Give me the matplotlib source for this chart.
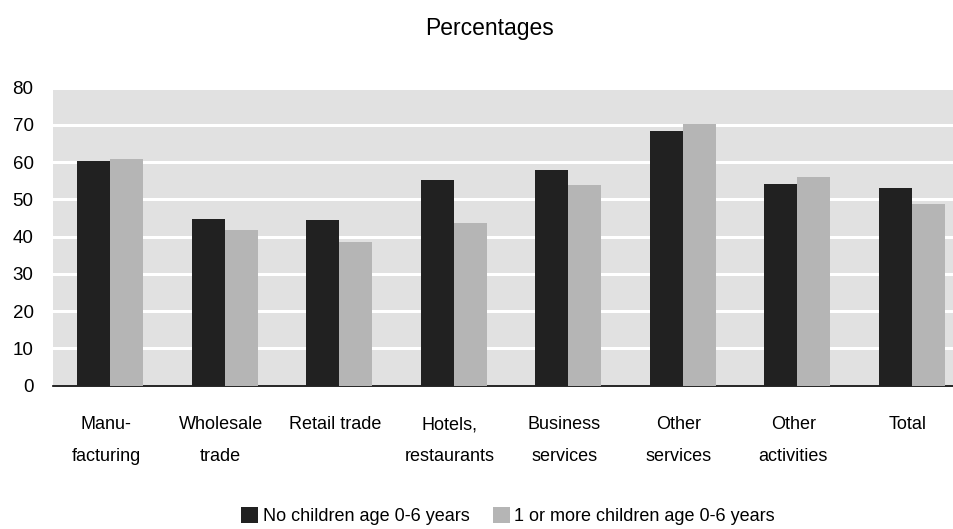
import matplotlib
matplotlib.use("Agg")
import matplotlib.pyplot as plt
import matplotlib.transforms as mtransforms
from matplotlib import font_manager
from matplotlib.patches import Patch

available = {f.name for f in font_manager.fontManager.ttflist}
family = "Liberation Sans Narrow" if "Liberation Sans Narrow" in available else "Liberation Sans"
plt.rcParams["font.family"] = [family, "DejaVu Sans"]

categories = ["Manu-\nfacturing", "Wholesale\ntrade", "Retail trade", "Hotels,\nrestaurants",
              "Business\nservices", "Other\nservices", "Other\nactivities", "Total"]
no_children = [60.2, 44.7, 44.5, 55.2, 58.0, 68.4, 54.1, 53.1]
with_children = [60.8, 41.8, 38.6, 43.7, 53.9, 70.3, 56.0, 48.8]
series_labels = ["No children age 0-6 years", "1 or more children age 0-6 years"]
yticks = [0, 10, 20, 30, 40, 50, 60, 70, 80]

fig = plt.figure(figsize=(9.54, 5.29), dpi=100)
W, H = 954, 529
left, right, top, bottom = 53, 969, 87.5, 385.7
ax = fig.add_axes([left / W, 1 - bottom / H, (right - left) / W, (bottom - top) / H])
ax.set_facecolor("#e1e1e1")

x = list(range(len(categories)))
bw = 0.29
ax.bar([i - bw / 2 for i in x], no_children, width=bw, color="#212121", zorder=3)
ax.bar([i + bw / 2 for i in x], with_children, width=bw, color="#b5b5b5", zorder=3)

ax.set_xlim(-0.5, len(categories) - 0.5)
ax.set_ylim(0, 80)
ax.set_yticks(yticks)
ax.set_yticklabels([str(v) for v in yticks], fontsize=13.5)
ax.yaxis.grid(True, color="white", linewidth=2.2, zorder=1)
ax.set_axisbelow(True)
ax.tick_params(axis="y", length=0, pad=14)
ax.tick_params(axis="x", length=0, pad=22)
ax.set_xticks(x)
ax.set_xticklabels(categories, fontsize=13, linespacing=2.15, va="top")
shift = mtransforms.ScaledTranslation(-4 / 100, 0, fig.dpi_scale_trans)
for lbl in ax.get_xticklabels():
    lbl.set_transform(lbl.get_transform() + shift)
for s in ["left", "right", "top"]:
    ax.spines[s].set_visible(False)
ax.spines["bottom"].set_color("black")
ax.spines["bottom"].set_linewidth(1.2)

fig.text(490 / W, 1 - 28 / H, "Percentages", ha="center", va="center", fontsize=16.5)

handles = [Patch(facecolor="#212121"), Patch(facecolor="#b5b5b5")]
fig.legend(handles, series_labels, loc="center", bbox_to_anchor=(508 / W, 1 - 516 / H),
           ncol=2, frameon=False, fontsize=13, handlelength=0.95, handleheight=0.95,
           handletextpad=0.25, columnspacing=1.3)

fig.savefig("out.png", dpi=100)
